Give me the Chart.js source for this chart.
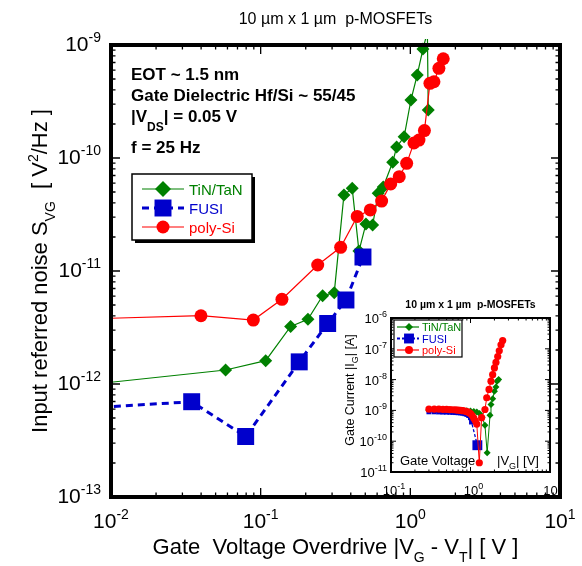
<!DOCTYPE html>
<html>
<head>
<meta charset="utf-8">
<title>Input referred noise vs gate voltage overdrive</title>
<script src="https://cdn.jsdelivr.net/npm/chart.js@4.4.1/dist/chart.umd.min.js"></script>
<style>
  html, body { margin: 0; padding: 0; background: #fff; }
  #wrap { position: relative; width: 582px; height: 566px; }
  canvas { position: absolute; }
  #main { left: 0; top: 0; }
  #inset { left: 330px; top: 290px; }
</style>
</head>
<body>
<div id="wrap">
  <canvas id="main" width="582" height="566"></canvas>
  <canvas id="inset" width="230" height="212"></canvas>
</div>
<script>
// main panel : S_VG (V^2/Hz) at 25 Hz vs |VG - VT| (V)
const tinOverdrive = [0.005, 0.0583, 0.108, 0.1586, 0.207, 0.2594, 0.3102, 0.36, 0.409, 0.4535, 0.505, 0.56, 0.61, 0.659, 0.762, 0.81, 0.909, 1.009, 1.112, 1.214, 1.30, 1.317];
const tinNoise = [9.4e-13, 1.33e-12, 1.61e-12, 3.23e-12, 3.74e-12, 6.04e-12, 6.43e-12, 4.71e-11, 5.39e-11, 1.50e-11, 2.61e-11, 2.55e-11, 4.87e-11, 5.54e-11, 9.16e-11, 1.25e-10, 1.54e-10, 3.26e-10, 5.43e-10, 9.2e-10, 1.3e-9, 2.66e-10];
const fusiOverdrive = [0.005, 0.0346, 0.0794, 0.181, 0.2803, 0.3713, 0.4825];
const fusiNoise = [5.95e-13, 6.97e-13, 3.43e-13, 1.57e-12, 3.43e-12, 5.54e-12, 1.33e-11];
const polyOverdrive = [0.005, 0.0399, 0.0893, 0.1387, 0.2405, 0.3423, 0.4418, 0.54, 0.643, 0.739, 0.843, 0.945, 1.057, 1.142, 1.242, 1.352, 1.438, 1.552, 1.659];
const polyNoise = [3.72e-12, 4.02e-12, 3.68e-12, 5.62e-12, 1.13e-11, 1.62e-11, 3.04e-11, 3.47e-11, 4.16e-11, 5.89e-11, 6.83e-11, 8.97e-11, 1.36e-10, 1.44e-10, 1.75e-10, 4.58e-10, 4.73e-10, 6.22e-10, 7.56e-10];

// inset : gate leakage |IG| (A) vs |VG| (V)
const tinGateV = [0.3, 0.4, 0.5, 0.6, 0.7, 0.8, 0.9, 1.0, 1.1, 1.2, 1.3, 1.4, 1.52, 1.62, 1.76, 1.81, 1.9, 2.0, 2.09, 2.16, 2.26];
const tinGateI = [1.0e-9, 1.0e-9, 1.0e-9, 1.0e-9, 1.0e-9, 1.0e-9, 9.8e-10, 9.6e-10, 9.2e-10, 8.8e-10, 8.0e-10, 6.0e-10, 3.3e-10, 4.2e-11, 6.9e-10, 1.55e-9, 2.4e-9, 4.2e-9, 5.8e-9, 8.9e-9, 1.0e-8];
const fusiGateV = [0.3, 0.35, 0.4, 0.45, 0.5, 0.55, 0.6, 0.65, 0.7, 0.75, 0.8, 0.85, 0.9, 0.95, 1.0, 1.03, 1.22];
const fusiGateI = [9.0e-10, 9.0e-10, 8.9e-10, 8.8e-10, 8.8e-10, 8.7e-10, 8.6e-10, 8.5e-10, 8.4e-10, 8.3e-10, 8.1e-10, 7.8e-10, 7.4e-10, 6.8e-10, 5.8e-10, 4.2e-10, 7.4e-11];
const polyGateV = [0.3, 0.35, 0.4, 0.45, 0.5, 0.55, 0.6, 0.65, 0.7, 0.75, 0.8, 0.85, 0.9, 0.95, 1.0, 1.05, 1.1, 1.15, 1.2, 1.29, 1.38, 1.52, 1.6, 1.71, 1.81, 1.9, 2.0, 2.09, 2.2, 2.3, 2.42, 2.54];
const polyGateI = [1.1e-9, 1.1e-9, 1.1e-9, 1.08e-9, 1.08e-9, 1.06e-9, 1.05e-9, 1.04e-9, 1.02e-9, 1.0e-9, 9.8e-10, 9.5e-10, 9.1e-10, 8.6e-10, 7.8e-10, 6.8e-10, 5.6e-10, 4.6e-10, 3.6e-10, 2.0e-11, 5.8e-10, 1.07e-9, 2.57e-9, 4.8e-9, 8.9e-9, 1.45e-8, 2.4e-8, 3.6e-8, 5.6e-8, 8.6e-8, 1.35e-7, 1.86e-7];

// tick labels (powers of ten)
const mainXExp = [-2, -1, 0, 1];
const mainYExp = [-13, -12, -11, -10, -9];
const insetXExp = [-1, 0, 1];
const insetYExp = [-11, -10, -9, -8, -7, -6];

const seriesNames = ['TiN/TaN', 'FUSI', 'poly-Si'];

const FONT = '"Liberation Sans", Arial, Helvetica, sans-serif';
const GREEN = '#008000';
const BLUE = '#0000cc';
const RED = '#ff0000';
const seriesColors = [GREEN, BLUE, RED];
const seriesStyles = ['rectRot', 'rect', 'circle'];

const toPts = (xs, ys) => xs.map((x, i) => ({ x, y: ys[i] }));

function drawRich(ctx, parts, x, y, opt) {
  const size = opt.size;
  const small = opt.small || Math.round(size * 0.68);
  const weight = opt.bold ? 'bold ' : '';
  const fontOf = k => weight + (k ? small : size) + 'px ' + FONT;
  let total = 0;
  const ws = parts.map(([t, k]) => {
    ctx.font = fontOf(k);
    const w = ctx.measureText(t).width;
    total += w;
    return w;
  });
  let cx = opt.align === 'center' ? x - total / 2 : opt.align === 'right' ? x - total : x;
  ctx.textAlign = 'left';
  ctx.textBaseline = 'alphabetic';
  parts.forEach(([t, k], i) => {
    ctx.font = fontOf(k);
    const dy = k === 1 ? (opt.subDy !== undefined ? opt.subDy : size * 0.32)
             : k === 2 ? -(opt.supDy !== undefined ? opt.supDy : size * 0.45) : 0;
    ctx.fillText(t, cx, y + dy);
    cx += ws[i];
  });
}

function marker(ctx, style, x, y, r, color) {
  ctx.fillStyle = color;
  ctx.beginPath();
  if (style === 'circle') {
    ctx.arc(x, y, r, 0, Math.PI * 2);
  } else if (style === 'rect') {
    const h = r * Math.SQRT1_2;
    ctx.rect(x - h, y - h, 2 * h, 2 * h);
  } else {
    ctx.moveTo(x - r, y); ctx.lineTo(x, y - r); ctx.lineTo(x + r, y); ctx.lineTo(x, y + r);
    ctx.closePath();
  }
  ctx.fill();
}

// inward log ticks on all four sides
function drawLogTicks(ctx, scale, area, horizontal, majorLen, minorLen, width) {
  const lo = Math.round(Math.log10(scale.min));
  const hi = Math.round(Math.log10(scale.max));
  ctx.strokeStyle = '#000';
  ctx.lineWidth = width;
  ctx.beginPath();
  for (let e = lo; e <= hi; e++) {
    for (let k = 1; k < 10; k++) {
      if (e === hi && k > 1) break;
      const p = scale.getPixelForValue(k * Math.pow(10, e));
      const len = k === 1 ? majorLen : minorLen;
      if (horizontal) {
        ctx.moveTo(p, area.bottom); ctx.lineTo(p, area.bottom - len);
        ctx.moveTo(p, area.top); ctx.lineTo(p, area.top + len);
      } else {
        ctx.moveTo(area.left, p); ctx.lineTo(area.left + len, p);
        ctx.moveTo(area.right, p); ctx.lineTo(area.right - len, p);
      }
    }
  }
  ctx.stroke();
}

function lineDataset(label, pts, color, style, extra) {
  return Object.assign({
    label, data: pts, showLine: true, tension: 0,
    borderColor: color, backgroundColor: color,
    pointStyle: style, pointBackgroundColor: color, pointBorderWidth: 0,
    pointHoverRadius: 0
  }, extra);
}

function logAxis(min, max, horizontal) {
  return {
    type: 'logarithmic', min, max,
    ticks: { display: false },
    grid: { display: false },
    border: { display: false },
    afterFit: s => { if (horizontal) s.height = 0; else s.width = 0; }
  };
}

const mainDecor = {
  id: 'mainDecor',
  afterDraw(chart) {
    const ctx = chart.ctx;
    const a = chart.chartArea;
    const xs = chart.scales.x, ys = chart.scales.y;
    ctx.save();
    drawLogTicks(ctx, xs, a, true, 9, 4.5, 1.3);
    drawLogTicks(ctx, ys, a, false, 9, 4.5, 1.3);
    ctx.lineWidth = 4;
    ctx.strokeStyle = '#000';
    ctx.strokeRect(a.left, a.top, a.right - a.left, a.bottom - a.top);

    ctx.fillStyle = '#000';
    mainXExp.forEach(e => {
      drawRich(ctx, [['10', 0], [String(e), 2]], xs.getPixelForValue(Math.pow(10, e)), 528, { size: 21, small: 14, supDy: 9, align: 'center' });
    });
    mainYExp.forEach(e => {
      drawRich(ctx, [['10', 0], [String(e), 2]], 101, ys.getPixelForValue(Math.pow(10, e)) + 6, { size: 21, small: 14, supDy: 9, align: 'right' });
    });

    // title and axis titles
    ctx.font = '16px ' + FONT;
    ctx.textAlign = 'center';
    ctx.fillText('10 µm x 1 µm  p-MOSFETs', (a.left + a.right) / 2, 24);
    drawRich(ctx, [['Gate  Voltage Overdrive |V', 0], ['G', 1], [' - V', 0], ['T', 1], ['| [ V ]', 0]],
      (a.left + a.right) / 2, 554, { size: 22, small: 14, subDy: 8, align: 'center' });
    ctx.save();
    ctx.translate(47, (a.top + a.bottom) / 2);
    ctx.rotate(-Math.PI / 2);
    drawRich(ctx, [['Input referred noise S', 0], ['VG', 1], ['  [ V', 0], ['2', 2], ['/Hz ]', 0]],
      0, 0, { size: 22, small: 14, subDy: 8, supDy: 9, align: 'center' });
    ctx.restore();

    // measurement conditions
    const bold = { size: 17, small: 12, subDy: 9, bold: true, align: 'left' };
    drawRich(ctx, [['EOT ~ 1.5 nm', 0]], 131, 80, bold);
    drawRich(ctx, [['Gate Dielectric Hf/Si ~ 55/45', 0]], 131, 101, bold);
    drawRich(ctx, [['|V', 0], ['DS', 1], ['| = 0.05 V', 0]], 131, 122, bold);
    drawRich(ctx, [['f = 25 Hz', 0]], 131, 153, bold);

    // legend box with drop shadow
    ctx.fillStyle = '#000';
    ctx.fillRect(135, 177, 120, 66);
    ctx.fillStyle = '#fff';
    ctx.fillRect(132, 174, 120, 66);
    ctx.lineWidth = 1.5;
    ctx.strokeRect(132, 174, 120, 66);
    const rows = [189, 208, 227];
    const sizes = [8, 12, 6.5];
    seriesNames.forEach((name, i) => {
      const y = rows[i];
      ctx.strokeStyle = seriesColors[i];
      ctx.lineWidth = i === 1 ? 3 : 1.2;
      ctx.setLineDash(i === 1 ? [7, 5] : []);
      ctx.beginPath(); ctx.moveTo(142, y); ctx.lineTo(184, y); ctx.stroke();
      ctx.setLineDash([]);
      marker(ctx, seriesStyles[i], 163, y, sizes[i], seriesColors[i]);
      ctx.fillStyle = seriesColors[i];
      ctx.font = '15px ' + FONT;
      ctx.textAlign = 'left';
      ctx.fillText(name, 189, y + 5.5);
    });
    ctx.restore();
  }
};

new Chart(document.getElementById('main'), {
  type: 'scatter',
  data: {
    datasets: [
      lineDataset(seriesNames[1], toPts(fusiOverdrive, fusiNoise), BLUE, 'rect',
        { borderWidth: 3, borderDash: [7, 5], pointRadius: 12, order: 0 }),
      lineDataset(seriesNames[2], toPts(polyOverdrive, polyNoise), RED, 'circle',
        { borderWidth: 1.2, pointRadius: 6.5, order: 1 }),
      lineDataset(seriesNames[0], toPts(tinOverdrive, tinNoise), GREEN, 'rectRot',
        { borderWidth: 1.2, pointRadius: 6.5, order: 2, clip: { left: 0, top: 6, right: 0, bottom: 0 } })
    ]
  },
  options: {
    responsive: false,
    animation: false,
    layout: { padding: { left: 111, top: 45, right: 22, bottom: 69 } },
    plugins: { legend: { display: false }, tooltip: { enabled: false } },
    scales: { x: logAxis(0.01, 10, true), y: logAxis(1e-13, 1e-9, false) }
  },
  plugins: [mainDecor]
});

const insetDecor = {
  id: 'insetDecor',
  afterDraw(chart) {
    const ctx = chart.ctx;
    const a = chart.chartArea;
    const xs = chart.scales.x, ys = chart.scales.y;
    ctx.save();
    drawLogTicks(ctx, xs, a, true, 5, 2.5, 1);
    drawLogTicks(ctx, ys, a, false, 5, 2.5, 1);
    ctx.lineWidth = 2;
    ctx.strokeStyle = '#000';
    ctx.strokeRect(a.left, a.top, a.right - a.left, a.bottom - a.top);

    ctx.fillStyle = '#000';
    insetXExp.forEach(e => {
      drawRich(ctx, [['10', 0], [String(e), 2]], xs.getPixelForValue(Math.pow(10, e)) + 3, 205, { size: 13, small: 9, supDy: 6, align: 'center' });
    });
    insetYExp.forEach(e => {
      drawRich(ctx, [['10', 0], [String(e), 2]], 57, ys.getPixelForValue(Math.pow(10, e)) + 5, { size: 13, small: 9, supDy: 6, align: 'right' });
    });

    ctx.font = 'bold 10.5px ' + FONT;
    ctx.textAlign = 'center';
    ctx.fillText('10 µm x 1 µm  p-MOSFETs', (a.left + a.right) / 2, 18);

    ctx.save();
    ctx.translate(24, 100);
    ctx.rotate(-Math.PI / 2);
    drawRich(ctx, [['Gate Current |I', 0], ['G', 1], ['| [A]', 0]], 0, 0, { size: 12.5, small: 9, subDy: 4, align: 'center' });
    ctx.restore();

    drawRich(ctx, [['Gate Voltage', 0]], 70, 175, { size: 13, align: 'left' });
    drawRich(ctx, [['|V', 0], ['G', 1], ['| [V]', 0]], 167, 175, { size: 13, small: 9, subDy: 4, align: 'left' });

    // legend
    ctx.fillStyle = '#fff';
    ctx.fillRect(64, 30, 68, 37);
    ctx.strokeStyle = '#000';
    ctx.lineWidth = 1.2;
    ctx.strokeRect(64, 30, 68, 37);
    const rows = [37, 48.5, 60];
    const sizes = [4, 7, 4];
    seriesNames.forEach((name, i) => {
      const y = rows[i];
      ctx.strokeStyle = seriesColors[i];
      ctx.lineWidth = i === 1 ? 2 : 1.2;
      ctx.setLineDash(i === 1 ? [3, 2] : []);
      ctx.beginPath(); ctx.moveTo(67, y); ctx.lineTo(89, y); ctx.stroke();
      ctx.setLineDash([]);
      marker(ctx, seriesStyles[i], 79, y, sizes[i], seriesColors[i]);
      ctx.fillStyle = seriesColors[i];
      ctx.font = '11px ' + FONT;
      ctx.textAlign = 'left';
      ctx.fillText(name, 92, y + 4);
    });
    ctx.restore();
  }
};

new Chart(document.getElementById('inset'), {
  type: 'scatter',
  data: {
    datasets: [
      lineDataset(seriesNames[2], toPts(polyGateV, polyGateI), RED, 'circle',
        { borderWidth: 1, pointRadius: 3.6, order: 0 }),
      lineDataset(seriesNames[1], toPts(fusiGateV, fusiGateI), BLUE, 'rect',
        { borderWidth: 1.3, borderDash: [3, 2], order: 1,
          pointRadius: c => (c.dataIndex === fusiGateV.length - 1 ? 7 : 3.5) }),
      lineDataset(seriesNames[0], toPts(tinGateV, tinGateI), GREEN, 'rectRot',
        { borderWidth: 1, pointRadius: 3.5, order: 2 })
    ]
  },
  options: {
    responsive: false,
    animation: false,
    layout: { padding: { left: 61, top: 28, right: 10, bottom: 30 } },
    plugins: { legend: { display: false }, tooltip: { enabled: false } },
    scales: { x: logAxis(0.1, 10, true), y: logAxis(1e-11, 1e-6, false) }
  },
  plugins: [insetDecor]
});
</script>
</body>
</html>
